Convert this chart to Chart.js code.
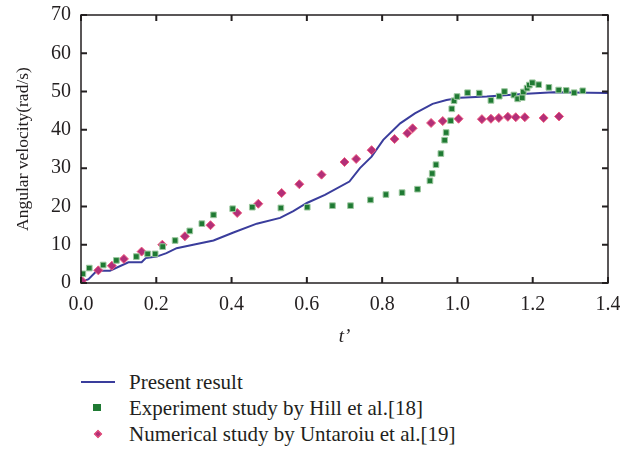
<!DOCTYPE html>
<html>
<head>
<meta charset="utf-8">
<script src="https://cdn.jsdelivr.net/npm/chart.js@4.4.1/dist/chart.umd.min.js"></script>
<style>
  body { margin: 0; background: #fff; }
  #wrap { position: relative; width: 620px; height: 451px; }
  #box { position: absolute; left: 0; top: 0; width: 620px; height: 360px; }
  #legend { position: absolute; left: 82px; top: 369px; font-family: "Liberation Serif", serif; font-size: 21px; color: #231f20; }
  .row { position: relative; height: 26px; line-height: 26px; padding-left: 47px; white-space: nowrap; }
  .mark { position: absolute; }
</style>
</head>
<body>
<div id="wrap">
  <div id="box"><canvas id="chart"></canvas></div>
  <div id="legend"></div>
</div>
<script>
const textColor = '#231f20';
const lineColor = '#3a3d9c';
const greenColor = '#1f7a33';
const redColor = '#b22f78';

// present result (solid line)
const presentT = [0, 0.02, 0.042, 0.077, 0.126, 0.161, 0.172, 0.201, 0.227, 0.254, 0.298, 0.352, 0.405, 0.467, 0.529, 0.564, 0.600, 0.648, 0.713, 0.741, 0.772, 0.803, 0.848, 0.887, 0.934, 0.971, 1.007, 1.078, 1.184, 1.255, 1.40];
const presentW = [0.2, 1.0, 3.2, 3.2, 5.4, 5.4, 6.5, 6.9, 7.8, 9.1, 10.0, 11.1, 13.2, 15.5, 17.0, 18.8, 20.9, 23.0, 26.5, 30.0, 33.0, 37.4, 41.7, 44.3, 46.8, 47.8, 48.4, 48.7, 49.4, 49.8, 49.6];

// Hill et al. experiment
const hillT = [0.005, 0.022, 0.059, 0.094, 0.147, 0.177, 0.197, 0.217, 0.250, 0.289, 0.321, 0.352, 0.403, 0.455, 0.531, 0.601, 0.668, 0.716, 0.769, 0.810, 0.853, 0.894, 0.927, 0.933, 0.943, 0.956, 0.966, 0.970, 0.982, 0.985, 0.991, 0.999, 1.027, 1.058, 1.089, 1.111, 1.125, 1.150, 1.160, 1.172, 1.175, 1.185, 1.191, 1.199, 1.216, 1.243, 1.269, 1.289, 1.310, 1.333];
const hillW = [2.4, 3.9, 4.7, 5.9, 6.9, 7.6, 7.6, 9.5, 11.1, 13.6, 15.5, 17.8, 19.4, 19.8, 19.6, 19.8, 20.2, 20.2, 21.7, 23.1, 23.6, 24.5, 26.7, 28.6, 30.9, 33.8, 37.3, 39.3, 42.4, 45.5, 47.6, 48.7, 49.7, 49.6, 47.7, 48.8, 50.0, 49.1, 48.1, 48.4, 49.9, 50.9, 51.7, 52.3, 51.8, 51.1, 50.4, 50.3, 49.7, 50.2];

// Untaroiu et al. numerical
const untT = [0.002, 0.046, 0.082, 0.114, 0.161, 0.216, 0.276, 0.344, 0.415, 0.471, 0.533, 0.580, 0.639, 0.700, 0.731, 0.772, 0.833, 0.867, 0.881, 0.930, 0.961, 1.003, 1.065, 1.089, 1.110, 1.134, 1.155, 1.179, 1.229, 1.270];
const untW = [0.6, 3.3, 4.5, 6.3, 8.2, 10.0, 12.2, 15.1, 18.3, 20.7, 23.5, 25.8, 28.3, 31.6, 32.4, 34.7, 37.6, 39.1, 40.4, 41.8, 42.3, 42.9, 42.8, 42.9, 43.1, 43.4, 43.3, 43.3, 43.1, 43.5];

const xTicks = [0, 0.2, 0.4, 0.6, 0.8, 1.0, 1.2, 1.4];
const yTicks = [0, 10, 20, 30, 40, 50, 60, 70];

const labels = ['Present result', 'Experiment study by Hill et al.[18]', 'Numerical study by Untaroiu et al.[19]'];

const toPoints = (xs, ys) => xs.map((x, i) => ({ x: x, y: ys[i] }));

const serif = '"Liberation Serif", serif';

// box and inward ticks on all four sides
const frame = {
    id: 'frame',
    afterDraw(chart) {
        const { ctx, chartArea: a, scales } = chart;
        ctx.save();
        ctx.strokeStyle = '#231f20';
        ctx.lineWidth = 1.5;
        ctx.strokeRect(a.left, a.top, a.right - a.left, a.bottom - a.top);
        ctx.lineWidth = 2;
        ctx.beginPath();
        xTicks.forEach(v => {
            const px = scales.x.getPixelForValue(v);
            ctx.moveTo(px, a.bottom); ctx.lineTo(px, a.bottom - 6);
            ctx.moveTo(px, a.top); ctx.lineTo(px, a.top + 6);
        });
        yTicks.forEach(v => {
            const py = scales.y.getPixelForValue(v);
            ctx.moveTo(a.left, py); ctx.lineTo(a.left + 6, py);
            ctx.moveTo(a.right, py); ctx.lineTo(a.right - 6, py);
        });
        ctx.stroke();
        ctx.restore();
    }
};

const ctx = document.querySelector('#chart').getContext('2d');
new Chart(ctx, {
    type: 'scatter',
    data: {
        datasets: [{
            label: labels[0],
            data: toPoints(presentT, presentW),
            showLine: true,
            borderColor: lineColor,
            borderWidth: 2,
            pointRadius: 0,
            tension: 0,
            order: 3
        }, {
            label: labels[1],
            data: toPoints(hillT, hillW),
            pointStyle: 'rect',
            pointRadius: 4,
            backgroundColor: greenColor,
            borderColor: '#9cc79f',
            borderWidth: 1,
            order: 1
        }, {
            label: labels[2],
            data: toPoints(untT, untW),
            pointStyle: 'rectRot',
            pointRadius: 4.5,
            backgroundColor: redColor,
            borderColor: '#ee5a7e',
            borderWidth: 1,
            order: 2
        }]
    },
    options: {
        responsive: true,
        maintainAspectRatio: false,
        animation: false,
        layout: { padding: { left: 0, right: 12, top: 15, bottom: 0 } },
        scales: {
            x: {
                type: 'linear',
                min: 0,
                max: 1.4,
                afterBuildTicks: s => { s.ticks = xTicks.map(v => ({ value: v })); },
                afterFit: s => { s.height = 77; s.paddingLeft = 0; s.paddingRight = 0; },
                ticks: {
                    color: textColor,
                    font: { family: serif, size: 20 },
                    padding: 10,
                    maxRotation: 0,
                    callback: v => v.toFixed(1)
                },
                grid: { display: false, drawTicks: false },
                border: { display: false },
                title: {
                    display: true,
                    text: 't\u2019',
                    color: textColor,
                    font: { family: serif, size: 19, style: 'italic' },
                    padding: { top: 0, bottom: 12 }
                }
            },
            y: {
                min: 0,
                max: 70,
                afterBuildTicks: s => { s.ticks = yTicks.map(v => ({ value: v })); },
                afterFit: s => { s.width = 81; s.paddingTop = 0; s.paddingBottom = 0; },
                ticks: {
                    color: textColor,
                    font: { family: serif, size: 20 },
                    padding: 10
                },
                grid: { display: false, drawTicks: false },
                border: { display: false },
                title: {
                    display: true,
                    text: 'Angular velocity(rad/s)',
                    color: textColor,
                    font: { family: serif, size: 17.5 },
                    padding: { top: 13, bottom: 0 }
                }
            }
        },
        plugins: {
            legend: { display: false },
            tooltip: { enabled: false }
        }
    },
    plugins: [frame]
});

// legend below the chart
const legend = document.querySelector('#legend');
const marks = [
    '<span class="mark" style="left:-1px;top:12px;width:34px;height:2px;background:' + lineColor + '"></span>',
    '<span class="mark" style="left:11px;top:9px;width:8px;height:7px;background:' + greenColor + '"></span>',
    '<span class="mark" style="left:13px;top:10px;width:4px;height:4px;transform:rotate(45deg);background:' + redColor + ';border:1px solid #ee5a7e"></span>'
];
labels.forEach((text, i) => {
    const row = document.createElement('div');
    row.className = 'row';
    row.innerHTML = marks[i] + text;
    legend.appendChild(row);
});
</script>
</body>
</html>
